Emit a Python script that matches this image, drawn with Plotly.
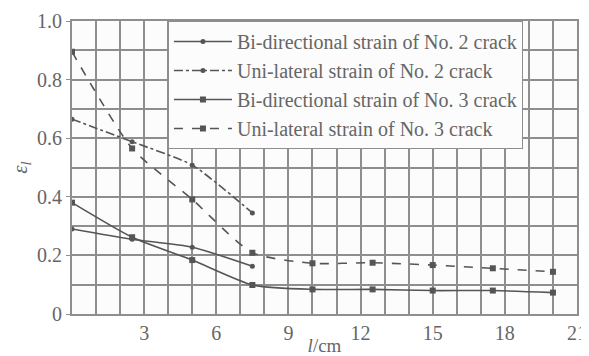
import plotly.graph_objects as go

x_no2 = [0, 2.5, 5, 7.5]
bi_no2 = [0.29, 0.255, 0.228, 0.163]
uni_no2 = [0.665, 0.588, 0.508, 0.345]

x_no3 = [0, 2.5, 5, 7.5, 10, 12.5, 15, 17.5, 20]
bi_no3 = [0.38, 0.262, 0.184, 0.099, 0.084, 0.084, 0.080, 0.080, 0.073]
uni_no3 = [0.895, 0.565, 0.391, 0.209, 0.173, 0.175, 0.167, 0.156, 0.144]

names = ["Bi-directional strain of No. 2 crack",
         "Uni-lateral strain of No. 2 crack",
         "Bi-directional strain of No. 3 crack",
         "Uni-lateral strain of No. 3 crack"]

x_ticks = [0, 3, 6, 9, 12, 15, 18, 21]
x_ticktext = ["", "3", "6", "9", "12", "15", "18", "21"]
y_ticks = [0, 0.2, 0.4, 0.6, 0.8, 1.0]
y_ticktext = ["0", "0.2", "0.4", "0.6", "0.8", "1.0"]

line_col = "#555555"
grid_col = "#8e8e8e"
text_col = "#666666"
font_fam = "Liberation Serif, Times New Roman, serif"

fig = go.Figure()
series = [
    (x_no2, bi_no2, "solid", "circle", 5),
    (x_no2, uni_no2, "dashdot", "circle", 5),
    (x_no3, bi_no3, "solid", "square", 6),
    (x_no3, uni_no3, "dash", "square", 6),
]
for (xs, ys, dash, sym, ms), nm in zip(series, names):
    fig.add_trace(go.Scatter(
        x=xs, y=ys, name=nm, mode="lines+markers",
        line=dict(color=line_col, width=1.6, dash=dash, shape="spline", smoothing=0.6),
        marker=dict(color=line_col, symbol=sym, size=ms),
    ))

# page has an 8px body margin, so the figure is sized/offset to compensate
fig.update_layout(
    width=581, height=348,
    margin=dict(l=64, r=12, t=13, b=42, autoexpand=False),
    paper_bgcolor="#ffffff", plot_bgcolor="#fcfcfc",
    font=dict(family=font_fam, size=20, color=text_col),
    showlegend=True,
    legend=dict(
        x=0.19, y=1.0, xanchor="left", yanchor="top",
        bgcolor="#fcfcfc", bordercolor=grid_col, borderwidth=1,
        font=dict(family=font_fam, size=20, color=text_col),
        itemwidth=58, tracegroupgap=0,
    ),
)
fig.update_xaxes(
    range=[0, 21], tickmode="array", tickvals=x_ticks, ticktext=x_ticktext,
    showgrid=True, gridcolor=grid_col, gridwidth=1.6,
    minor=dict(tickvals=list(range(0, 22)), showgrid=True, gridcolor=grid_col, gridwidth=1.6),
    showline=True, linecolor=grid_col, linewidth=2, mirror=True,
    ticks="", zeroline=False, tickfont=dict(size=20), automargin=False,
    title=dict(text="<i>l</i>/cm", standoff=0, font=dict(size=19)),
)
fig.update_yaxes(
    range=[0, 1.0], tickmode="array", tickvals=y_ticks, ticktext=y_ticktext,
    showgrid=True, gridcolor=grid_col, gridwidth=1.6,
    minor=dict(tickvals=[i / 10 for i in range(0, 11)], showgrid=True, gridcolor=grid_col, gridwidth=1.6),
    showline=True, linecolor=grid_col, linewidth=2, mirror=True,
    ticks="outside", ticklen=4, tickcolor=grid_col, zeroline=False,
    tickfont=dict(size=20), automargin=False,
    title=dict(text="<i>ε<sub>l</sub></i>", standoff=16, font=dict(size=21)),
)

fig.write_html("out.html")
